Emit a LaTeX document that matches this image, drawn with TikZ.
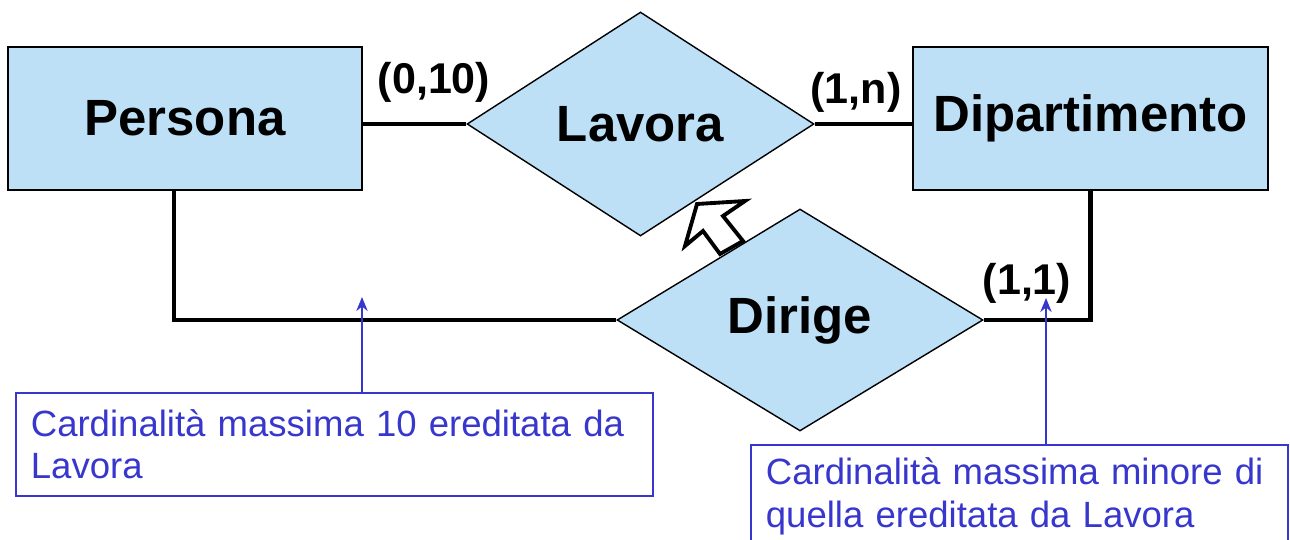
\documentclass[tikz,border=0pt]{standalone}
\usepackage{fontspec}
\setmainfont{Liberation Sans}
\usetikzlibrary{shapes.geometric,arrows.meta}
\definecolor{erfill}{RGB}{189,224,247}
\definecolor{noteblue}{RGB}{55,55,205}
\begin{document}
\begin{tikzpicture}[x=0.02cm,y=-0.02cm,
 entity/.style={draw=black, line width=0.8pt, fill=erfill, rectangle, minimum width=7.08cm, minimum height=2.86cm, inner sep=0pt, font=\fontsize{29}{34}\selectfont\bfseries},
 relation/.style={draw=black, line width=0.8pt, fill=erfill, diamond, aspect=1.55, inner sep=0pt, font=\fontsize{29}{34}\selectfont\bfseries},
 conn/.style={line width=2.3pt},
 card/.style={font=\fontsize{24.5}{29}\selectfont\bfseries, inner sep=0pt},
 note/.style={draw=noteblue, line width=1pt, text=noteblue, anchor=north west, align=left, font=\fontsize{20.8}{24}\selectfont, inner xsep=0.3cm, inner ysep=0pt, minimum height=2.06cm},
 notearrow/.style={draw=noteblue, line width=1pt, -{Stealth[length=8pt,width=6.5pt]}},
 hollowarrow/.style={draw=black, line width=2.2pt, fill=white, line join=miter}
]
\useasboundingbox (0,0) rectangle (1290,540);
% entities and relations
\node[entity] (persona) at (185,118.5) {Persona};
\node[entity, minimum width=7.1cm] (dip) at (1090.5,118.5) {Dipartimento};
\node[relation, minimum width=6.94cm, minimum height=4.48cm] (lavora) at (640.5,124) {Lavora};
\node[relation, minimum width=7.32cm, minimum height=4.44cm] (dirige) at (800,320) {Dirige};
% connectors
\draw[conn] (persona.east |- lavora.west) -- (lavora.west);
\draw[conn] (lavora.east) -- (lavora.east -| dip.west);
\draw[conn] ([xshift=-0.22cm]persona.south) |- (dirige.west);
\draw[conn] (dirige.east) -| (dip.south);
% cardinalities
\node[card] (c010) at (434,82) {(0,10)};
\node[card] (c1n) at (856,92) {(1,n)};
\node[card] (c11) at (1027,283) {(1,1)};
% inheritance arrow
\draw[hollowarrow] (697,204) -- (745,201) -- (723,216) -- (743,241) -- (720,254) -- (703,231) -- (685,246) -- cycle;
% notes
\node[note, text width=12.14cm] (n1) at (15,392) {Cardinalità massima 10 ereditata da\\Lavora};
\node[note, text width=10.14cm] (n2) at (750,444) {Cardinalità massima minore di\\quella ereditata da Lavora};
\coordinate (t1) at (362,297);
\coordinate (t2) at (1046,298);
\draw[notearrow] (t1 |- n1.north) -- (t1);
\draw[notearrow] (t2 |- n2.north) -- (t2);
\end{tikzpicture}
\end{document}
